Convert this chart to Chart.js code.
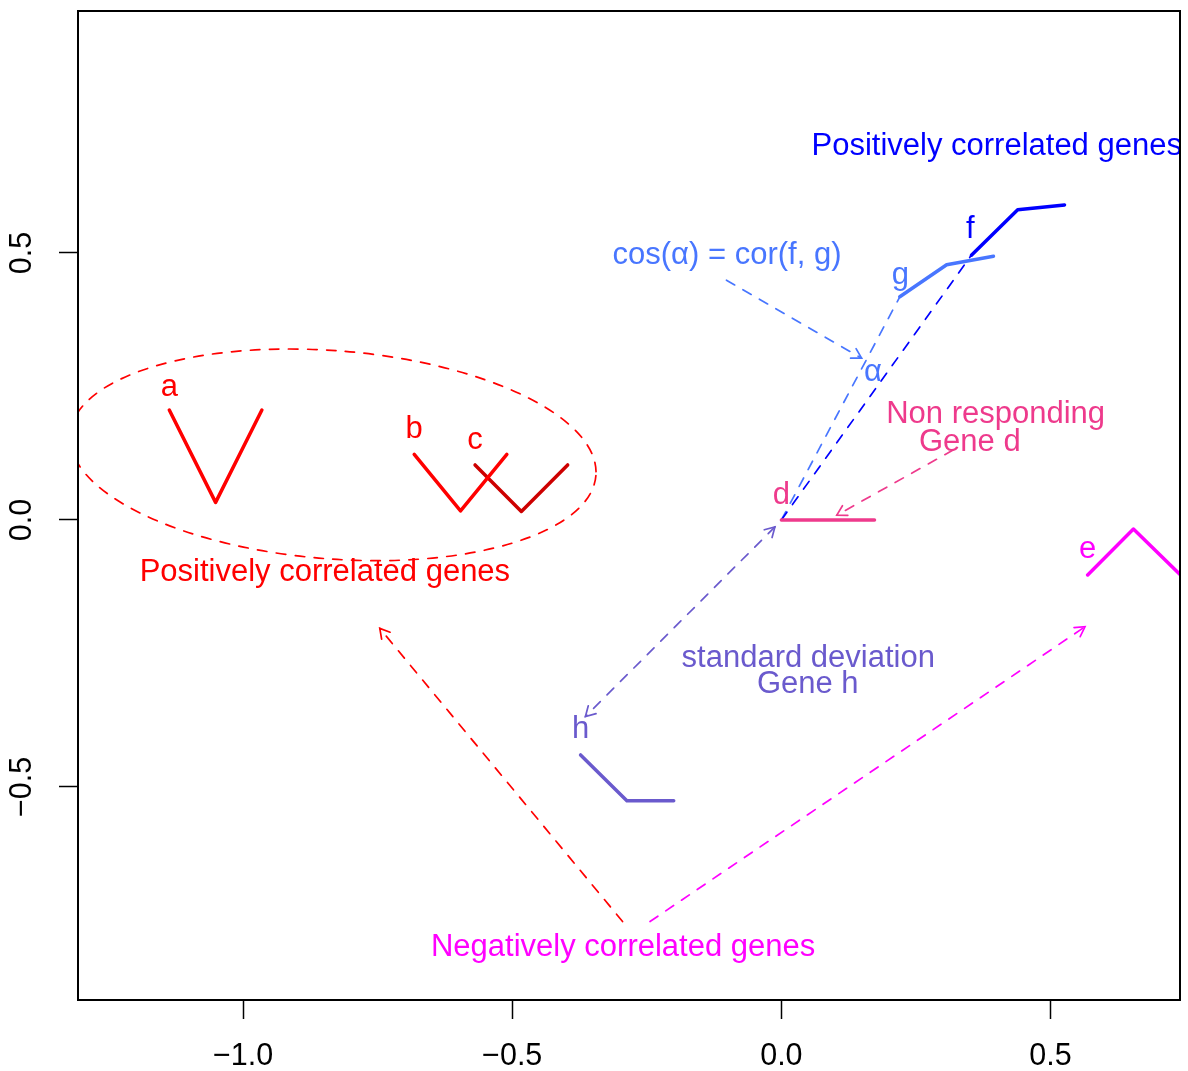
<!DOCTYPE html>
<html>
<head>
<meta charset="utf-8">
<script src="https://cdn.jsdelivr.net/npm/chart.js@4.4.1/dist/chart.umd.min.js"></script>
<style>
  html, body { margin: 0; padding: 0; background: #fff; }
</style>
</head>
<body>
<canvas id="myChart" width="1188" height="1071"></canvas>
<script>
// axis ticks
const xTicks = [-1, -0.5, 0, 0.5];
const yTicks = [-0.5, 0, 0.5];

// gene profiles (three points each)
const geneA = [[-1.137, 0.206], [-1.051, 0.033], [-0.965, 0.206]];
const geneB = [[-0.682, 0.123], [-0.596, 0.017], [-0.510, 0.123]];
const geneC = [[-0.569, 0.103], [-0.483, 0.016], [-0.397, 0.103]];
const geneD = [[0, 0], [0.087, 0], [0.173, 0]];
const geneE = [[0.569, -0.103], [0.654, -0.017], [0.7415, -0.103]];
const geneF = [[0.353, 0.496], [0.439, 0.581], [0.526, 0.590]];
const geneG = [[0.220, 0.418], [0.307, 0.478], [0.394, 0.494]];
const geneH = [[-0.373, -0.440], [-0.287, -0.526], [-0.200, -0.526]];

// dashed vectors and arrows [from, to]
const vectorF = [[0, 0], [0.353, 0.496]];
const vectorG = [[0, 0], [0.220, 0.418]];
const arrowCos = [[-0.102, 0.449], [0.149, 0.303]];
const arrowGeneD = [[0.319, 0.131], [0.103, 0.009]];
const arrowGeneH = [[-0.012, -0.013], [-0.364, -0.368]];
const arrowNegRed = [[-0.295, -0.752], [-0.746, -0.203]];
const arrowNegMag = [[-0.244, -0.752], [0.564, -0.200]];

// ellipse around a, b, c
const ellipseCentre = [-0.833, 0.122];
const ellipseRadii = [0.49, 0.195];
const ellipseTilt = 4.5;

// gene names
const geneNames = ['a', 'b', 'c', 'd', 'e', 'f', 'g', 'h'];
const nameX = [-1.137, -0.682, -0.569, 0, 0.569, 0.351, 0.221, -0.373];
const nameY = [0.253, 0.174, 0.153, 0.051, -0.050, 0.549, 0.463, -0.387];

// notes
const notes = ['Positively correlated genes', 'Positively correlated genes', 'Negatively correlated genes',
  'Non responding', 'Gene d', 'standard deviation', 'Gene h', 'cos(\u03b1) = cor(f, g)', '\u03b1'];
const noteX = [-0.848, 0.400, -0.294, 0.398, 0.350, 0.050, 0.049, -0.101, 0.170];
const noteY = [-0.094, 0.705, -0.796, 0.203, 0.150, -0.254, -0.303, 0.500, 0.281];

const FONT = "'Liberation Sans', Arial, Helvetica, sans-serif";
const SIZE = 30.5;
const TEXT_SIZE = 31;
const RED = '#FF0000', RED3 = '#CD0000', PINK = '#EE3A8C', MAG = '#FF00FF',
      BLUE = '#0000FF', ROYAL = '#4876FF', SLATE = '#6A5ACD';

const nameColours = [RED, RED, RED, PINK, MAG, BLUE, ROYAL, SLATE];
const noteColours = [RED, BLUE, MAG, PINK, PINK, SLATE, SLATE, ROYAL, ROYAL];
const arrows = [
  { pts: arrowCos, colour: ROYAL, both: false },
  { pts: arrowGeneD, colour: PINK, both: false },
  { pts: arrowGeneH, colour: SLATE, both: true },
  { pts: arrowNegRed, colour: RED, both: false },
  { pts: arrowNegMag, colour: MAG, both: false }
];

const DASH = [9.5, 9.5];
const THIN = 1.7;

function line(points, colour, width, dash) {
  return {
    data: points.map(p => ({ x: p[0], y: p[1] })),
    borderColor: colour,
    borderWidth: width,
    borderDash: dash || [],
    borderCapStyle: 'round',
    borderJoinStyle: 'round',
    showLine: true,
    pointRadius: 0,
    fill: false,
    clip: 0
  };
}

const annotate = {
  id: 'annotate',
  afterDatasetsDraw(chart) {
    const { ctx, chartArea: a, scales: { x, y } } = chart;
    ctx.save();
    ctx.beginPath();
    ctx.rect(a.left, a.top, a.right - a.left, a.bottom - a.top);
    ctx.clip();

    // ellipse
    ctx.strokeStyle = RED;
    ctx.lineWidth = THIN;
    ctx.lineCap = 'round';
    ctx.setLineDash(DASH);
    ctx.beginPath();
    ctx.ellipse(
      x.getPixelForValue(ellipseCentre[0]), y.getPixelForValue(ellipseCentre[1]),
      x.getPixelForValue(ellipseRadii[0]) - x.getPixelForValue(0),
      y.getPixelForValue(0) - y.getPixelForValue(ellipseRadii[1]),
      ellipseTilt * Math.PI / 180, 0, 2 * Math.PI);
    ctx.stroke();

    // arrow heads
    const head = (px, py, qx, qy) => {
      const ang = Math.atan2(py - qy, px - qx);
      const len = 11;
      ctx.beginPath();
      ctx.moveTo(px - len * Math.cos(ang - Math.PI / 6), py - len * Math.sin(ang - Math.PI / 6));
      ctx.lineTo(px, py);
      ctx.lineTo(px - len * Math.cos(ang + Math.PI / 6), py - len * Math.sin(ang + Math.PI / 6));
      ctx.stroke();
    };
    ctx.setLineDash([]);
    arrows.forEach(ar => {
      const x0 = x.getPixelForValue(ar.pts[0][0]), y0 = y.getPixelForValue(ar.pts[0][1]);
      const x1 = x.getPixelForValue(ar.pts[1][0]), y1 = y.getPixelForValue(ar.pts[1][1]);
      ctx.strokeStyle = ar.colour;
      ctx.lineWidth = THIN;
      head(x1, y1, x0, y0);
      if (ar.both) head(x0, y0, x1, y1);
    });

    // text (small nudge so the visual centre sits on the point, like R)
    ctx.font = TEXT_SIZE + 'px ' + FONT;
    ctx.textAlign = 'center';
    ctx.textBaseline = 'middle';
    const nudge = 2.5;
    geneNames.forEach((t, i) => {
      ctx.fillStyle = nameColours[i];
      ctx.fillText(t, x.getPixelForValue(nameX[i]), y.getPixelForValue(nameY[i]) + nudge);
    });
    notes.forEach((t, i) => {
      ctx.fillStyle = noteColours[i];
      ctx.fillText(t, x.getPixelForValue(noteX[i]), y.getPixelForValue(noteY[i]) + nudge);
    });
    ctx.restore();

    // plot box
    ctx.save();
    ctx.strokeStyle = '#000';
    ctx.lineWidth = 2;
    ctx.strokeRect(a.left, a.top, a.right - a.left, a.bottom - a.top);
    ctx.restore();
  }
};

const fmt = v => (Math.abs(v) < 1e-9 ? 0 : v).toFixed(1).replace('-', '\u2212');

new Chart(document.getElementById('myChart').getContext('2d'), {
  type: 'scatter',
  data: {
    datasets: [
      line(geneA, RED, 3.5), line(geneB, RED, 3.5), line(geneC, RED3, 3.5),
      line(geneD, PINK, 3.5), line(geneE, MAG, 3.5), line(geneF, BLUE, 3.5),
      line(geneG, ROYAL, 3.5), line(geneH, SLATE, 3.5),
      line(vectorF, BLUE, THIN, DASH), line(vectorG, ROYAL, THIN, DASH),
      line(arrowCos, ROYAL, THIN, DASH), line(arrowGeneD, PINK, THIN, DASH),
      line(arrowGeneH, SLATE, THIN, DASH), line(arrowNegRed, RED, THIN, DASH),
      line(arrowNegMag, MAG, THIN, DASH)
    ]
  },
  options: {
    responsive: false,
    animation: false,
    layout: { padding: { top: 11, right: 8, left: 0, bottom: 0 } },
    plugins: { legend: { display: false }, tooltip: { enabled: false } },
    scales: {
      x: {
        type: 'linear', min: -1.3066, max: 0.7405,
        afterBuildTicks: s => { s.ticks = xTicks.map(v => ({ value: v })); },
        afterFit: s => { s.height = 71; s.paddingLeft = 0; s.paddingRight = 0; },
        border: { display: false },
        grid: { drawOnChartArea: false, drawTicks: true, tickLength: 19, tickColor: '#000', tickWidth: 1.5 },
        ticks: { color: '#000', font: { family: FONT, size: SIZE }, padding: 19,
                 maxRotation: 0, autoSkip: false, callback: v => fmt(v) }
      },
      y: {
        type: 'linear', min: -0.899, max: 0.9532,
        afterBuildTicks: s => { s.ticks = yTicks.map(v => ({ value: v })); },
        afterFit: s => { s.width = 78; s.paddingTop = 0; s.paddingBottom = 0; },
        border: { display: false },
        grid: { drawOnChartArea: false, drawTicks: true, tickLength: 19, tickColor: '#000', tickWidth: 1.5 },
        ticks: { color: '#000', font: { family: FONT, size: SIZE }, padding: 6,
                 minRotation: 90, maxRotation: 90, crossAlign: 'center', autoSkip: false, callback: v => fmt(v) }
      }
    }
  },
  plugins: [annotate]
});
</script>
</body>
</html>
